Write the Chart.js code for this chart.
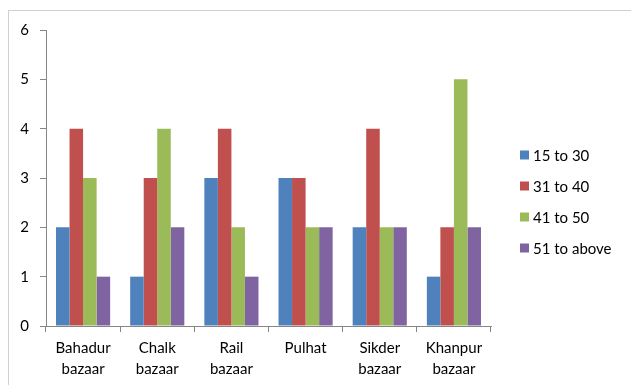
<!DOCTYPE html>
<html>
<head>
<meta charset="utf-8">
<script src="https://cdn.jsdelivr.net/npm/chart.js@4"></script>
<style>
  html, body { margin: 0; padding: 0; background: #fff; overflow: hidden; }
  #wrap { position: relative; width: 631px; height: 385px; }
  canvas { display: block; }
</style>
</head>
<body>
<div id="wrap"><canvas id="c" width="631" height="385"></canvas></div>
<script>
// Market places (two-line labels) and age groups
const categories = [
  ['Bahadur', 'bazaar'],
  ['Chalk', 'bazaar'],
  ['Rail', 'bazaar'],
  ['Pulhat'],
  ['Sikder', 'bazaar'],
  ['Khanpur', 'bazaar']
];
const seriesNames = ['15 to 30', '31 to 40', '41 to 50', '51 to above'];
const age15to30 = [2, 1, 3, 3, 2, 1];
const age31to40 = [4, 3, 4, 3, 4, 2];
const age41to50 = [3, 4, 2, 2, 2, 5];
const age51up   = [1, 2, 1, 2, 2, 2];
const yTicks = [0, 1, 2, 3, 4, 5, 6];

const seriesValues = [age15to30, age31to40, age41to50, age51up];
const seriesColors = ['#4F81BD', '#C0504D', '#9BBB59', '#8064A2'];

const FONT = 'Lato, "Open Sans", "Liberation Sans", sans-serif';
const AXIS = '#868686';

// Thin frame around the whole chart
const framePlugin = {
  id: 'frame',
  beforeDraw(chart) {
    const ctx = chart.ctx;
    ctx.save();
    ctx.fillStyle = '#fff';
    ctx.fillRect(0, 0, chart.width, chart.height);
    ctx.strokeStyle = '#d0d0d0';
    ctx.lineWidth = 1;
    ctx.strokeRect(8.5, 10.5, 800, 600);
    ctx.restore();
  }
};

// Legend on the right, stacked vertically
const sideLegend = {
  id: 'sideLegend',
  afterDraw(chart) {
    const ctx = chart.ctx;
    const x = 520, y0 = 155, step = 31, box = 9;
    ctx.save();
    ctx.font = '15px ' + FONT;
    ctx.textBaseline = 'middle';
    ctx.textAlign = 'left';
    chart.data.datasets.forEach((ds, i) => {
      const y = y0 + i * step;
      ctx.fillStyle = ds.backgroundColor;
      ctx.fillRect(x, y - box / 2, box, box);
      ctx.fillStyle = '#000';
      ctx.fillText(ds.label, x + box + 4, y + 1);
    });
    ctx.restore();
  }
};

new Chart(document.getElementById('c'), {
  type: 'bar',
  data: {
    labels: categories,
    datasets: seriesNames.map((name, i) => ({
      label: name,
      data: seriesValues[i],
      backgroundColor: seriesColors[i],
      borderWidth: 0,
      categoryPercentage: 0.73,
      barPercentage: 1.0
    }))
  },
  options: {
    responsive: false,
    animation: false,
    layout: { padding: { left: 0, top: 30, right: 140, bottom: 0 } },
    plugins: { legend: { display: false }, tooltip: { enabled: false } },
    scales: {
      x: {
        grid: { display: true, drawOnChartArea: false, tickLength: 6, color: AXIS, offset: true },
        border: { display: true, color: AXIS },
        ticks: {
          color: '#000',
          font: { family: FONT, size: 15, lineHeight: 1.45 },
          padding: 5,
          maxRotation: 0,
          autoSkip: false
        },
        afterFit(scale) { scale.height = 59; }
      },
      y: {
        min: 0,
        max: 6,
        afterBuildTicks(scale) { scale.ticks = yTicks.map(v => ({ value: v })); },
        grid: { display: true, drawOnChartArea: false, tickLength: 6, color: AXIS },
        border: { display: true, color: AXIS },
        ticks: {
          color: '#000',
          font: { family: FONT, size: 15 },
          padding: 11
        },
        afterFit(scale) { scale.width = 46; }
      }
    }
  },
  plugins: [framePlugin, sideLegend]
});
</script>
</body>
</html>
